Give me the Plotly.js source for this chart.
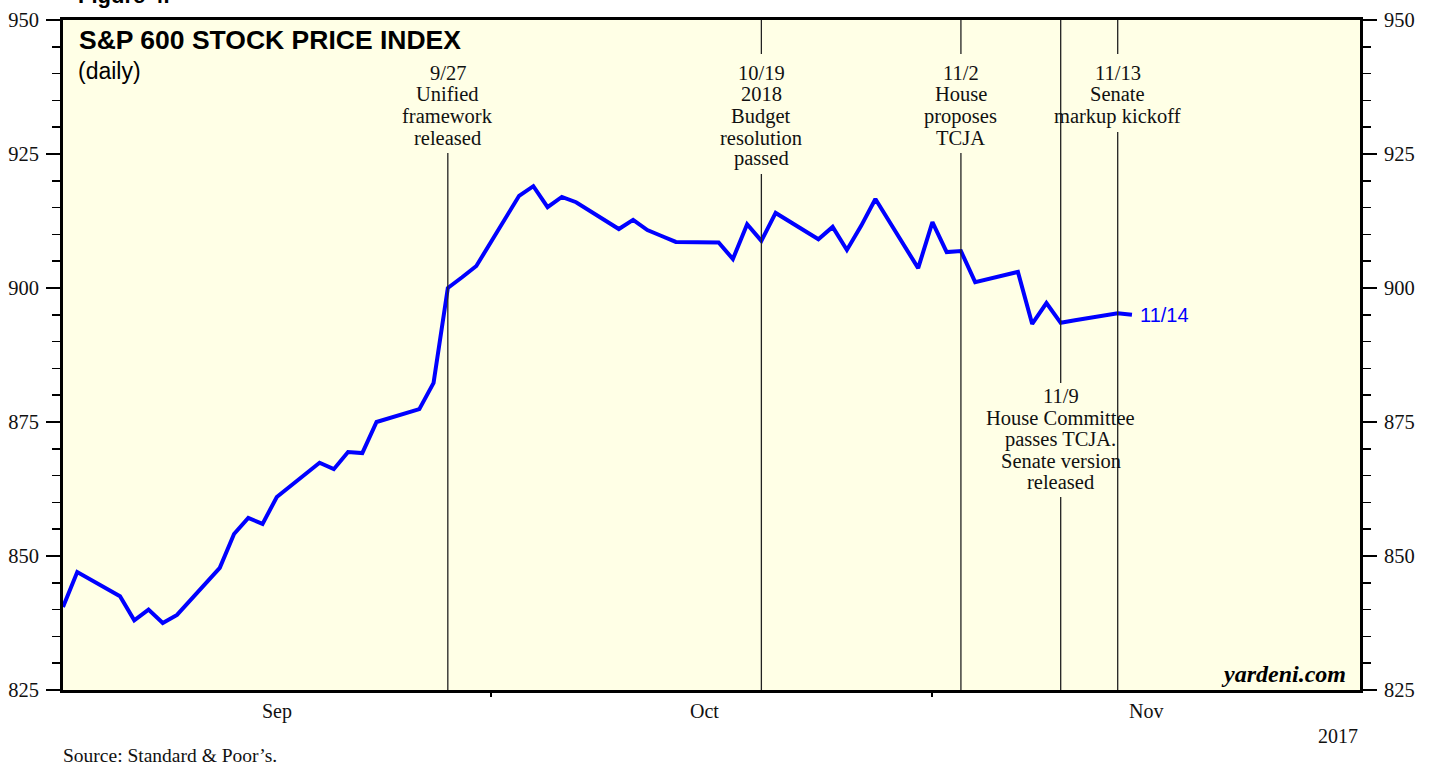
<!DOCTYPE html>
<html>
<head>
<meta charset="utf-8">
<script src="https://cdn.plot.ly/plotly-3.0.1.min.js"></script>
<style>
body{margin:0;padding:0;background:#fff;}
#chart{width:1429px;height:767px;}
</style>
</head>
<body>
<div id="chart"></div>
<script>
// S&P 600 daily closes
var dates = ['2017-08-31','2017-09-01','2017-09-04','2017-09-05','2017-09-06','2017-09-07','2017-09-08',
  '2017-09-11','2017-09-12','2017-09-13','2017-09-14','2017-09-15','2017-09-18','2017-09-19','2017-09-20',
  '2017-09-21','2017-09-22','2017-09-25','2017-09-26','2017-09-27','2017-09-28','2017-09-29',
  '2017-10-02','2017-10-03','2017-10-04','2017-10-05','2017-10-06','2017-10-09','2017-10-10','2017-10-11',
  '2017-10-12','2017-10-13','2017-10-16','2017-10-17','2017-10-18','2017-10-19','2017-10-20',
  '2017-10-23','2017-10-24','2017-10-25','2017-10-26','2017-10-27','2017-10-30','2017-10-31',
  '2017-11-01','2017-11-02','2017-11-03','2017-11-06','2017-11-07','2017-11-08','2017-11-09',
  '2017-11-10','2017-11-13','2017-11-14'];
var values = [840.5,847,842.5,838,840,837.5,839,
  847.8,854.1,857.1,856,861,867.4,866.2,869.4,
  869.2,875,877.4,882.3,900,902,904.1,
  917.2,919,915.1,917,916,911,912.7,910.8,
  909.7,908.6,908.5,905.4,911.9,908.8,914,
  909.1,911.4,907.1,911.6,916.6,903.7,912.3,
  906.7,906.9,901.1,903,893.3,897.2,893.5,
  894.0,895.3,895];

var eventDates = ['2017-09-27','2017-10-19','2017-11-02','2017-11-09','2017-11-13'];
var eventText = [
  ['9/27','Unified','framework','released'],
  ['10/19','2018','Budget','resolution','passed'],
  ['11/2','House','proposes','TCJA'],
  ['11/9','House Committee','passes TCJA.','Senate version','released'],
  ['11/13','Senate','markup kickoff']
];

var monthLabels = ['Sep','Oct','Nov'];
var monthMid = ['2017-09-15','2017-10-15','2017-11-15'];
var monthEnds = ['2017-09-30','2017-10-31'];
var yTicks = [825,850,875,900,925,950];

// pixel -> paper (plot area is y 20..690)
function py(p){ return (690-p)/670; }

var serif = 'Liberation Serif, Times New Roman, serif';
var sans = 'Liberation Sans, Arial, sans-serif';

// where each event line is broken for its text, and where the text starts
var segs = [
  [[153,690]],
  [[20,54],[174,690]],
  [[20,54],[153,690]],
  [[20,383],[497,690]],
  [[20,54],[132,690]]
];
var textTop = [73,73,73,396,73];

var shapes = [];
var annotations = [];
for (var i=0;i<eventDates.length;i++){
  for (var j=0;j<segs[i].length;j++){
    shapes.push({type:'line', xref:'x', yref:'paper', x0:eventDates[i], x1:eventDates[i],
      y0:py(segs[i][j][1]), y1:py(segs[i][j][0]), line:{color:'#222', width:1.3}});
  }
  for (var k=0;k<eventText[i].length;k++){
    annotations.push({xref:'x', yref:'paper', x:eventDates[i], y:py(textTop[i]+k*21.5),
      text:eventText[i][k], showarrow:false, xanchor:'center', yanchor:'middle',
      font:{family:serif, size:20.5, color:'#111'}});
  }
}
for (var m=0;m<monthLabels.length;m++){
  annotations.push({xref:'x', yref:'paper', x:monthMid[m], y:0, yshift:-21, text:monthLabels[m],
    showarrow:false, xanchor:'center', yanchor:'middle', font:{family:serif, size:20, color:'#111'}});
}
annotations.push(
  {xref:'paper', yref:'paper', x:0, y:1, xshift:13, yshift:10, xanchor:'left', yanchor:'bottom',
   text:'<b>Figure 4.</b>', showarrow:false, font:{family:sans, size:22, color:'#000'}},
  {xref:'paper', yref:'paper', x:0, y:py(40), xshift:14, xanchor:'left', yanchor:'middle',
   text:'<b>S&P 600 STOCK PRICE INDEX</b>', showarrow:false, font:{family:sans, size:26.5, color:'#000'}},
  {xref:'paper', yref:'paper', x:0, y:py(71), xshift:13, xanchor:'left', yanchor:'middle',
   text:'(daily)', showarrow:false, font:{family:sans, size:23, color:'#000'}},
  {xref:'x', yref:'y', x:dates[dates.length-1], y:values[values.length-1], xshift:6, xanchor:'left', yanchor:'middle',
   text:'11/14', showarrow:false, font:{family:sans, size:20, color:'#0000ff'}},
  {xref:'paper', yref:'paper', x:1, y:0, xshift:-12, yshift:1, xanchor:'right', yanchor:'bottom',
   text:'<b><i>yardeni.com</i></b>', showarrow:false, font:{family:serif, size:24, color:'#000'}},
  {xref:'paper', yref:'paper', x:1, y:0, xshift:0, yshift:-46, xanchor:'right', yanchor:'middle',
   text:'2017', showarrow:false, font:{family:serif, size:20, color:'#111'}},
  {xref:'paper', yref:'paper', x:0, y:0, xshift:-2, yshift:-65, xanchor:'left', yanchor:'middle',
   text:'Source: Standard & Poor\u2019s.', showarrow:false, font:{family:serif, size:19.5, color:'#111'}}
);

var trace1 = {x:dates, y:values, type:'scatter', mode:'lines', name:'S&P 600',
  line:{color:'#0000ff', width:4}, hoverinfo:'x+y'};
var trace2 = {x:dates, y:values, type:'scatter', mode:'lines', yaxis:'y2', showlegend:false,
  line:{color:'rgba(0,0,0,0)', width:0}, hoverinfo:'skip'};

var yax = {range:[825,950], tickvals:yTicks, ticks:'outside', ticklen:14, tickwidth:2, tickcolor:'#000',
  showgrid:false, zeroline:false, showline:true, linewidth:3, linecolor:'#000', mirror:true,
  tickfont:{family:serif, size:20.5, color:'#111'}, ticklabelstandoff:3,
  minor:{dtick:5, ticks:'outside', ticklen:8, tickwidth:1.5, tickcolor:'#000', showgrid:false}};

var layout = {
  width:1429, height:767,
  margin:{l:63, r:69, t:20, b:77},
  paper_bgcolor:'#ffffff', plot_bgcolor:'#ffffe6',
  showlegend:false,
  xaxis:{type:'date', range:['2017-08-31','2017-11-30'], tickvals:monthEnds, ticktext:['',''],
    ticks:'outside', ticklen:4, tickwidth:2, tickcolor:'#000', showticklabels:false,
    showgrid:false, zeroline:false, showline:true, linewidth:3, linecolor:'#000', mirror:true},
  yaxis:yax,
  yaxis2:Object.assign({}, yax, {overlaying:'y', side:'right', mirror:false}),
  shapes:shapes,
  annotations:annotations
};

Plotly.newPlot('chart', [trace1, trace2], layout, {displayModeBar:false, staticPlot:true});
</script>
</body>
</html>
